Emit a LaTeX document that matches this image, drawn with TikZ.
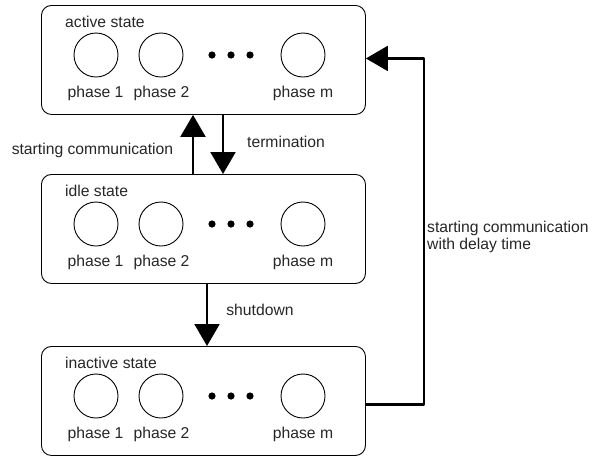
\documentclass[tikz,border=0pt]{standalone}
\usepackage{fontspec}
\setmainfont{Liberation Sans}
\usetikzlibrary{arrows.meta}
\begin{document}
\begin{tikzpicture}[x=1pt,y=-1pt,line join=round,font=\fontsize{15.7}{17}\selectfont,
	statebox/.style={draw,rounded corners=10pt,minimum width=324pt,minimum height=109pt,inner sep=0pt,line width=0.9pt},
	phase/.style={draw,circle,minimum size=44pt,inner sep=0pt,line width=0.9pt},
	lbl/.style={inner sep=0pt,text=black!85},
	flow/.style={line width=2.2pt,-{Triangle[length=22pt,width=25pt]}}]
		\useasboundingbox (0,0) rectangle (602,456);
		% the three states
		\foreach \s/\y/\t in {act/5/active,idle/174/idle,inact/346/inactive}{
			\node[statebox,anchor=north west] (\s) at (41,\y) {};
			\node[lbl,anchor=west] (\s-name) at (65,\y+17) {\t\ state};
			\node[phase] (\s-p1) at (96,\y+50) {};
			\node[phase] (\s-p2) at (161,\y+50) {};
			\node[phase] (\s-pm) at (303,\y+50) {};
			\fill (212,\y+50) circle[radius=3.6pt] (231,\y+50) circle[radius=3.6pt] (250,\y+50) circle[radius=3.6pt];
			\node[lbl] (\s-t1) at (95.5,\y+88) {phase 1};
			\node[lbl] (\s-t2) at (161.5,\y+88) {phase 2};
			\node[lbl] (\s-tm) at (303,\y+88) {phase m};
		}
		% transitions
		\draw[flow] ([xshift=152pt]idle.north west) -- ([xshift=152pt]act.south west);
		\draw[flow] ([xshift=182pt]act.south west) -- ([xshift=182pt]idle.north west);
		\draw[flow] ([xshift=166pt]idle.south west) -- ([xshift=166pt]inact.north west);
		\draw[flow] ([yshift=-3.5pt]inact.east) -- ++(58,0) |- ([yshift=1.5pt]act.east);
		\node[lbl] (start) at (92.5,150) {starting communication};
		\node[lbl] (term) at (286,142) {termination};
		\node[lbl] (shut) at (260,310) {shutdown};
		\node[lbl,anchor=west,align=left] (delay) at (427,236.5) {starting communication\\with delay time};
\end{tikzpicture}
\end{document}
